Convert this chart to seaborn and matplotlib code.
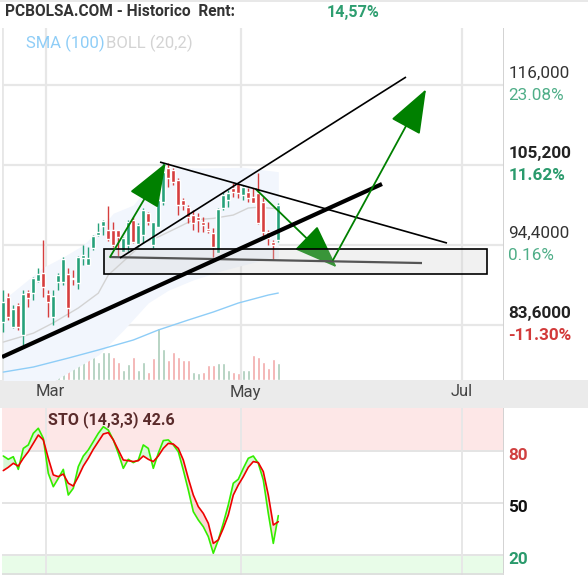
import numpy as np
import pandas as pd
import matplotlib
matplotlib.use("Agg")
import matplotlib.pyplot as plt
import matplotlib.transforms as mtransforms
from matplotlib.patches import Rectangle
import seaborn as sns

sns.set_theme(style="white")
plt.rcParams['font.family'] = ['Roboto', 'DejaVu Sans']

# ---------------- data ----------------
opens = [84.05, 87.43, 83.29, 86.30, 82.25, 88.10, 87.88, 89.58, 90.58, 87.74,
         84.73, 89.45, 89.45, 90.44, 89.99, 89.23, 92.60, 91.70, 93.95, 95.75,
         96.96, 96.43, 96.43, 96.43, 93.50, 94.40, 97.78, 94.49, 95.75, 98.68,
         94.40, 96.88, 100.25, 104.75, 104.53, 103.18, 100.48, 99.58, 98.45, 98.14,
         97.55, 96.52, 95.98, 93.28, 99.35, 100.48, 102.05, 102.73, 101.15, 101.60,
         100.93, 101.38, 100.25, 96.20, 94.85, 95.08]
highs = [88.33, 87.97, 86.30, 86.53, 88.33, 88.33, 90.13, 91.25, 95.08, 88.33,
         88.33, 90.58, 92.73, 91.25, 91.03, 92.92, 94.40, 94.18, 95.75, 97.41,
         97.78, 99.67, 97.55, 96.43, 95.53, 97.78, 98.23, 97.33, 99.35, 98.90,
         97.55, 100.93, 105.43, 105.43, 104.75, 103.40, 100.70, 99.80, 99.13, 98.68,
         98.23, 97.55, 96.65, 99.35, 101.60, 101.83, 102.73, 102.73, 102.50, 102.05,
         102.05, 104.08, 100.93, 96.43, 95.08, 100.03]
lows = [82.70, 84.28, 83.15, 82.93, 80.90, 86.08, 86.98, 89.45, 87.43, 84.73,
        83.60, 88.33, 89.00, 84.64, 89.00, 88.42, 91.70, 91.70, 93.73, 95.61,
        95.75, 94.90, 94.18, 92.92, 93.50, 93.50, 94.63, 94.18, 94.63, 97.10,
        93.95, 96.78, 99.80, 102.28, 102.50, 98.45, 99.13, 97.33, 96.43, 96.20,
        96.20, 95.98, 92.83, 93.28, 99.13, 99.58, 100.93, 100.70, 100.48, 100.25,
        100.03, 97.20, 95.53, 94.40, 92.38, 94.85]
closes = [86.75, 84.73, 85.71, 83.38, 87.74, 87.20, 89.90, 90.44, 88.78, 86.75,
          87.56, 90.35, 92.51, 85.85, 89.81, 92.73, 93.05, 92.60, 95.61, 96.20,
          97.69, 95.17, 94.40, 95.53, 95.30, 97.55, 94.85, 97.10, 99.13, 97.55,
          97.55, 100.48, 104.30, 103.40, 102.95, 99.80, 99.80, 98.23, 97.33, 97.78,
          97.10, 96.34, 94.18, 99.22, 101.15, 101.38, 101.60, 101.38, 102.28, 100.70,
          100.12, 97.33, 96.20, 95.30, 94.40, 99.80]
volume = [930, 420, 300, 420, 820, 250, 540, 420, 1500, 720,
          800, 820, 550, 900, 780, 780, 800, 650, 680, 550,
          850, 850, 680, 550, 300, 480, 680, 300, 550, 250,
          650, 1550, 920, 600, 850, 680, 600, 600, 250, 200,
          250, 450, 450, 500, 500, 300, 250, 200, 300, 300,
          750, 700, 550, 350, 620, 500]
volume_up = [1, 0, 1, 0, 1, 0, 1, 1, 0, 0,
             1, 1, 1, 0, 1, 1, 1, 0, 1, 1,
             1, 1, 0, 0, 1, 1, 0, 1, 1, 0,
             0, 1, 1, 0, 0, 0, 0, 0, 1, 1,
             0, 0, 0, 1, 1, 1, 0, 0, 1, 1,
             0, 0, 0, 0, 0, 1]

sma100_idx = [0, 6, 13, 19, 26, 31, 37, 42, 47, 53, 55]
sma100_val = [77.25, 77.93, 79.14, 80.23, 81.58, 82.93, 84.28, 85.36, 86.57, 87.65, 87.92]

boll_mid_idx = [0, 6, 10, 15, 19, 21, 25, 28, 31, 35, 38, 42, 46, 49, 51, 55]
boll_mid_val = [81.3, 82.5, 83.9, 85.9, 87.9, 90.35, 92.8, 94.7, 95.5, 96.8,
                97.8, 98.0, 98.45, 99.4, 99.5, 99.3]
boll_up_idx = [0, 8, 12, 16, 20, 22, 26, 30, 32, 40, 48, 55]
boll_up_val = [87.0, 91.4, 92.8, 94.4, 97.1, 98.7, 99.8, 103.2, 104.9, 104.8, 104.9, 104.3]
boll_lo_idx = [0, 10, 19, 24, 29, 33, 38, 44, 52, 55]
boll_lo_val = [76.0, 76.0, 79.55, 82.9, 86.6, 88.3, 89.7, 91.0, 92.4, 92.65]

sto_k = [77.1, 75.2, 76.7, 69.4, 81.5, 83.5, 90.2, 93.1, 87.3, 67.1,
         59.4, 64.2, 69.4, 54.6, 58.5, 71.0, 77.1, 80.6, 85.4, 90.2,
         94.0, 92.1, 86.4, 78.7, 70.0, 75.2, 73.3, 74.8, 83.5, 81.5,
         70.0, 78.7, 86.0, 86.4, 83.5, 79.6, 69.0, 57.5, 45.0, 40.2,
         36.3, 30.6, 21.0, 28.7, 38.3, 48.9, 61.4, 63.7, 70.0, 75.8,
         77.1, 72.9, 63.3, 44.0, 26.7, 42.7]
sto_d = [68.7, 70.6, 72.9, 71.3, 75.8, 79.6, 84.4, 89.2, 86.4, 75.8,
         66.2, 65.2, 66.7, 61.4, 59.8, 65.2, 71.3, 75.8, 81.0, 85.4,
         89.8, 90.6, 86.4, 80.6, 74.8, 74.4, 73.9, 74.4, 77.1, 75.2,
         73.9, 77.1, 81.5, 84.4, 84.0, 81.5, 74.8, 64.2, 54.6, 47.9,
         44.0, 38.3, 26.7, 28.7, 35.4, 43.1, 54.6, 60.4, 65.2, 70.6,
         73.9, 73.3, 68.1, 54.6, 37.3, 39.2]

# price axis labels (right side)
price_ticks = [116.0, 105.2, 94.4, 83.6]
price_labels = ["116,000", "105,200", "94,4000", "83,6000"]
pct_labels = ["23.08%", "11.62%", "0.16%", "-11.30%"]
label_bold = [False, True, False, True]
pct_colors = ["#4fae88", "#2a9a6c", "#4fae88", "#d23a3a"]

month_pos = [8.54, 47.54, 91.74]
month_label_pos = [9.3, 48.5, 91.74]
month_labels = ["Mar", "May", "Jul"]

sto_levels = [80, 50, 20]
sto_level_colors = ["#d04040", "#111111", "#2a9a6c"]

# drawing annotations (in data units: candle index, price)
thick_line = [(-0.26, 79.28), (75.74, 102.64)]
channel_line = [(23.34, 92.65), (80.54, 117.08)]
down_line = [(31.34, 105.6), (88.74, 94.67)]
support_line = [(21.34, 92.78), (83.74, 91.97)]
box = [(20.2, 90.49), (96.74, 93.82)]
arrow_a = [(21.34, 92.78), (32.48, 105.47)]
arrow_b = [(50.54, 101.92), (66.68, 91.39)]
arrow_c = [(65.94, 92.38), (84.54, 115.42)]

# ---------------- figure ----------------
W, H = 588, 576
fig = plt.figure(figsize=(W / 100, H / 100), dpi=100)
fig.patch.set_facecolor("white")

def fy(y):
    return 1 - y / H

# top gray strip & date strip
fig.patches.append(Rectangle((0, fy(2)), 1, 2 / H, transform=fig.transFigure,
                             facecolor="#e8e8e8", edgecolor="none", zorder=0))
fig.patches.append(Rectangle((0, fy(408)), 1, 28 / H, transform=fig.transFigure,
                             facecolor="#ebebeb", edgecolor="none", zorder=0))

x0, x1 = 2, 504
rect_main = [x0 / W, fy(380), (x1 - x0) / W, (380 - 28) / H]
rect_sto = [x0 / W, fy(575), (x1 - x0) / W, (575 - 408) / H]

xlim = (-0.26, 100.14)
ylim = (76.18, 123.70)

ax_vol = fig.add_axes(rect_main)
ax = fig.add_axes(rect_main, sharex=ax_vol)
ax_vol.set_zorder(1)
ax.set_zorder(2)
ax.patch.set_visible(False)

for a in (ax, ax_vol):
    a.set_xlim(*xlim)
    for s in a.spines.values():
        s.set_visible(False)
    a.tick_params(left=False, bottom=False, labelleft=False, labelbottom=False)
    a.set_xticks([])
    a.set_yticks([])
ax.set_ylim(*ylim)
ax_vol.set_ylim(0, 10560)

idx = np.arange(len(opens))

# volume
vcol = ["#a9cbb8" if u else "#f2a9a9" for u in volume_up]
ax_vol.bar(idx, volume, width=0.72, color=vcol, zorder=2)

# grid
gc = "#e7e7e7"
for p in price_ticks:
    ax.axhline(p, color=gc, lw=1.6, zorder=0.5)
for m in month_pos:
    ax.axvline(m, color=gc, lw=1.6, zorder=0.5)
ax.axvline(xlim[0] + 0.05, color=gc, lw=2, zorder=0.5)
ax.axvline(xlim[1], color="#d2d2d2", lw=1.4, zorder=0.5)

# bollinger band fill
xs = np.arange(0, 56)
up_i = np.interp(xs, boll_up_idx, boll_up_val)
lo_i = np.interp(xs, boll_lo_idx, boll_lo_val)
ax.fill_between(xs, lo_i, up_i, color="#f2f6fd", lw=0, zorder=1)

df_mid = pd.DataFrame({"x": boll_mid_idx, "y": boll_mid_val})
sns.lineplot(data=df_mid, x="x", y="y", ax=ax, color="#d3d3d3", lw=1.0,
             sort=False, estimator=None, zorder=2)
df_sma = pd.DataFrame({"x": sma100_idx, "y": sma100_val})
sns.lineplot(data=df_sma, x="x", y="y", ax=ax, color="#8ecdf7", lw=1.0,
             sort=False, estimator=None, zorder=2)

# candles
o = np.array(opens); c = np.array(closes)
h = np.array(highs); l = np.array(lows)
up = c >= o
ccol = np.where(up, "#26a17a", "#d63e3e")
ax.vlines(idx, l, h, colors=ccol, lw=1.0, zorder=3)
body_lo = np.minimum(o, c)
body_h = np.maximum(np.abs(c - o), 0.08)
ax.bar(idx, body_h, bottom=body_lo, width=0.75, color=ccol, zorder=3)

# drawings
def seg(pts, **kw):
    ax.plot([pts[0][0], pts[1][0]], [pts[0][1], pts[1][1]],
            solid_capstyle="butt", **kw)

def arrow(pts, z):
    ax.annotate("", xy=pts[1], xytext=pts[0], xycoords="data",
                arrowprops=dict(arrowstyle="-|>,head_length=2.8,head_width=1.05",
                                color="#008000", lw=1.3, shrinkA=0, shrinkB=0,
                                mutation_scale=10), zorder=z)

arrow(arrow_b, 4)
ax.add_patch(Rectangle(box[0], box[1][0] - box[0][0], box[1][1] - box[0][1],
                       facecolor="#cfcfcf", alpha=0.28, edgecolor="none", zorder=5))
ax.add_patch(Rectangle(box[0], box[1][0] - box[0][0], box[1][1] - box[0][1],
                       facecolor="none", edgecolor="black", lw=1.2, zorder=6))
seg(support_line, color="#555555", lw=1.6, zorder=6)
seg(thick_line, color="black", lw=3.0, zorder=6)
seg(channel_line, color="black", lw=1.2, zorder=6)
seg(down_line, color="black", lw=1.2, zorder=6)
arrow(arrow_a, 7)
arrow(arrow_c, 7)

# right price labels
ytr = ax.get_yaxis_transform()
for p, lab, pct, b, pc in zip(price_ticks, price_labels, pct_labels, label_bold, pct_colors):
    ax.annotate(lab, xy=(1, p), xycoords=ytr, xytext=(3, 8.6), textcoords="offset points",
                ha="left", va="center", fontsize=12.3,
                fontweight="bold" if b else "normal",
                color="#222222" if b else "#333333", annotation_clip=False)
    ax.annotate(pct, xy=(1, p), xycoords=ytr, xytext=(3, -7.2), textcoords="offset points",
                ha="left", va="center", fontsize=12.3,
                fontweight="bold" if b else "normal", color=pc, annotation_clip=False)

# header
fig.text(5 / W, fy(12), "PCBOLSA.COM - Historico  Rent:", fontsize=11.2,
         fontweight="bold", color="#333333", va="center", ha="left")
fig.text(327 / W, fy(12), "14,57%", fontsize=11.6, fontweight="bold",
         color="#2e9e70", va="center", ha="left")
fig.text(26 / W, fy(43), "SMA (100)", fontsize=12, color="#8ecdf7",
         va="center", ha="left", zorder=10)
fig.text(106 / W, fy(43), "BOLL (20,2)", fontsize=12, color="#d3d3d3",
         va="center", ha="left", zorder=10)

# month labels
btr = mtransforms.blended_transform_factory(ax.transData, fig.transFigure)
for mp, ml in zip(month_label_pos, month_labels):
    ax.text(mp, fy(392), ml, transform=btr, ha="center", va="center",
            fontsize=12, color="#444444", clip_on=False)

# ---------------- stochastic ----------------
ax2 = fig.add_axes(rect_sto)
ax2.set_xlim(*xlim)
ax2.set_ylim(8.46, 104.8)
for s in ax2.spines.values():
    s.set_visible(False)
ax2.set_xticks([]); ax2.set_yticks([])
ax2.axhspan(80, 110, color="#fde7e7", lw=0, zorder=0)
ax2.axhspan(0, 20, color="#e8fce8", lw=0, zorder=0)
for lv in sto_levels:
    ax2.axhline(lv, color="#e4e4e4", lw=1.4, zorder=0.5)
for m in month_pos:
    ax2.axvline(m, color=gc, lw=1.4, zorder=0.5)
ax2.axvline(xlim[1], color="#d2d2d2", lw=1.4, zorder=0.5)
ax2.axhline(8.9, color="#dcdcdc", lw=1.2, zorder=0.5)

k = np.array(sto_k); d = np.array(sto_d)
ax2.fill_between(idx, k, d, where=k >= d, interpolate=True, color="#d8f7d8", lw=0, zorder=1)
ax2.fill_between(idx, k, d, where=k < d, interpolate=True, color="#fbd6d6", lw=0, zorder=1)
df_sto = pd.DataFrame({"x": idx, "k": k, "d": d})
sns.lineplot(data=df_sto, x="x", y="k", ax=ax2, color="#33ee00", lw=1.2, zorder=2)
sns.lineplot(data=df_sto, x="x", y="d", ax=ax2, color="#ee0000", lw=1.2, zorder=3)
ax2.set_xlabel(""); ax2.set_ylabel("")
ax.set_xlabel(""); ax.set_ylabel("")

ax2.text(48 / W, fy(420), "STO (14,3,3) 42.6", transform=fig.transFigure,
         fontsize=11.5, fontweight="bold", color="#5a2b2b", va="center", ha="left")
ytr2 = ax2.get_yaxis_transform()
for lv, lc in zip(sto_levels, sto_level_colors):
    ax2.annotate(str(lv), xy=(1, lv), xycoords=ytr2, xytext=(3, -3.6),
                 textcoords="offset points", ha="left", va="center",
                 fontsize=12.3, fontweight="bold", color=lc, annotation_clip=False)

fig.savefig("out.png", dpi=100)
